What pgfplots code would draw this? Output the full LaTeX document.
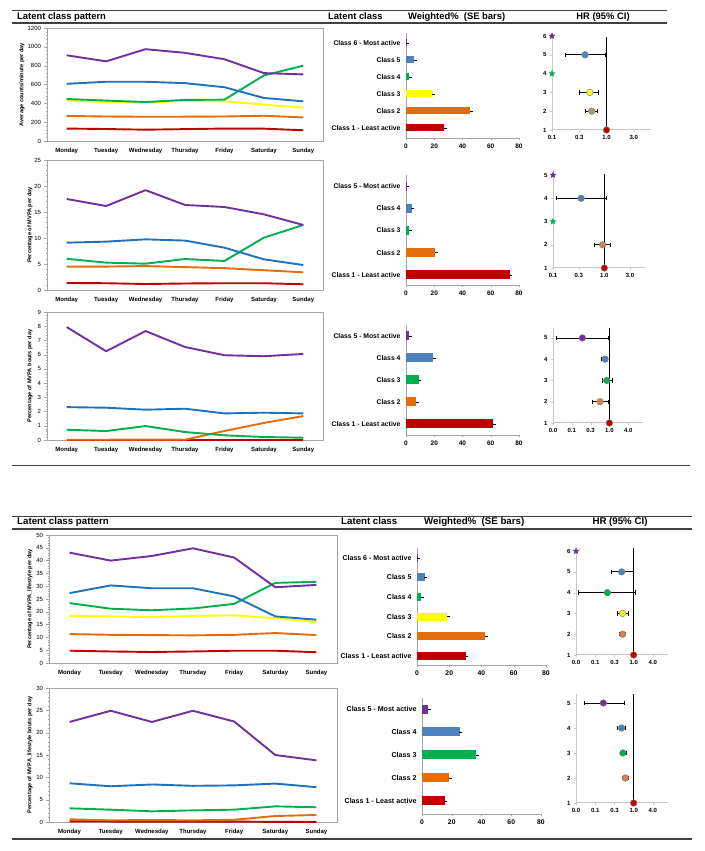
\documentclass[border=0pt]{standalone}
\usepackage{fontspec}
\setmainfont{Liberation Sans}
\usepackage{pgfplots}
\pgfplotsset{compat=1.18}
\definecolor{cPur}{HTML}{7030A0}
\definecolor{cBlu}{HTML}{1F72BE}
\definecolor{cGrn}{HTML}{00B050}
\definecolor{cYel}{HTML}{FFFF00}
\definecolor{cOra}{HTML}{E46C0A}
\definecolor{cRed}{HTML}{C00000}
\definecolor{cBar}{HTML}{4F81BD}
\definecolor{cTan}{HTML}{B09A6A}
\definecolor{cHOra}{HTML}{D9804F}
\definecolor{axgray}{HTML}{A6A6A6}
\definecolor{hrgray}{HTML}{C8C8C8}
\definecolor{rulec}{HTML}{404040}

\pgfdeclareplotmark{fstar}{%
 \pgfpathmoveto{\pgfpointpolar{90}{\pgfplotmarksize}}%
 \pgfpathlineto{\pgfpointpolar{126}{0.42\pgfplotmarksize}}%
 \pgfpathlineto{\pgfpointpolar{162}{\pgfplotmarksize}}%
 \pgfpathlineto{\pgfpointpolar{198}{0.42\pgfplotmarksize}}%
 \pgfpathlineto{\pgfpointpolar{234}{\pgfplotmarksize}}%
 \pgfpathlineto{\pgfpointpolar{270}{0.42\pgfplotmarksize}}%
 \pgfpathlineto{\pgfpointpolar{306}{\pgfplotmarksize}}%
 \pgfpathlineto{\pgfpointpolar{342}{0.42\pgfplotmarksize}}%
 \pgfpathlineto{\pgfpointpolar{18}{\pgfplotmarksize}}%
 \pgfpathlineto{\pgfpointpolar{54}{0.42\pgfplotmarksize}}%
 \pgfpathclose\pgfusepathqfill}

\pgfplotsset{
 linechart/.style={scale only axis, anchor=south west, xmin=-0.5, xmax=6.5, ymin=0,
  xtick={0,...,6}, xticklabels={Monday,Tuesday,Wednesday,Thursday,Friday,Saturday,Sunday},
  x tick label style={font=\fontsize{6}{7}\selectfont\bfseries, yshift=-1pt},
  y tick label style={font=\fontsize{6}{7}\selectfont},
  axis line style={draw=axgray, line width=0.6pt},
  ytick pos=left, tick align=outside, xtick style={draw=none},
  ytick style={draw=axgray}, major tick length=2.5pt, minor tick length=1.3pt,
  minor y tick num=4, clip=false,
  ylabel style={font=\fontsize{5.6}{6}\selectfont\bfseries, anchor=center},
  every axis plot/.append style={line width=1.9pt, no markers, line join=round}},
 barchart/.style={scale only axis, anchor=south west, xmin=0, xmax=80,
  xtick={0,20,...,80}, ytick={1,...,6},
  axis x line*=bottom, axis y line*=left,
  axis line style={draw=axgray, line width=0.6pt, -},
  tick style={draw=axgray}, tick align=outside, major tick length=2pt,
  ytick style={draw=none}, minor ytick={0.5,1.5,...,6.5}, minor tick length=2pt,
  x tick label style={font=\fontsize{6.5}{7}\selectfont\bfseries},
  y tick label style={font=\fontsize{6.8}{7}\selectfont\bfseries},
  xbar, bar shift=0pt, clip=false},
 barp/.style={fill=#1, draw=none, error bars/.cd, x dir=plus, x explicit,
  error bar style={black, line width=0.6pt}, error mark options={black, mark size=1.4pt, line width=0.6pt}},
 hrchart/.style={scale only axis, anchor=south west, ymin=1,
  ytick={1,...,6}, minor xtick={},
  axis x line*=bottom, axis y line*=left,
  axis line style={draw=hrgray, line width=1pt, -},
  tick style={draw=hrgray}, tick align=outside, major tick length=2pt,
  tick label style={font=\fontsize{6}{7}\selectfont\bfseries}, clip=false},
 ci/.style={black, line width=0.8pt, mark=|, mark size=2.2pt, mark options={solid, line width=0.8pt}},
 pt/.style={only marks, mark=*, mark size=3.3pt, mark options={fill=#1, draw=gray, line width=0.5pt}},
 st/.style={only marks, mark=fstar, mark size=3.8pt, mark options={fill=#1}},
 refl/.style={black, line width=1.1pt, no markers},
 /pgf/number format/assume math mode=true,
 /pgf/number format/set thousands separator={},
}

\begin{document}
\begin{tikzpicture}[x=1pt,y=1pt]
\fill[white] (0,0) rectangle (704,851);
\path[use as bounding box] (0,0) rectangle (704,851);

% ===== headers top panel =====
\draw[rulec, line width=0.7pt] (12,841) -- (667,841);
\draw[rulec, line width=1.1pt] (12,828) -- (667,828);
\draw[rulec, line width=0.9pt] (12,386) -- (690,386);
\node[anchor=base west, inner sep=0pt, font=\fontsize{9.4}{11}\selectfont\bfseries] at (17,831.5) {Latent class pattern};
\node[anchor=base west, inner sep=0pt, font=\fontsize{9.4}{11}\selectfont\bfseries] at (328,831.5) {Latent class};
\node[anchor=base west, inner sep=0pt, font=\fontsize{9.4}{11}\selectfont\bfseries] at (408,831.5) {Weighted\%\ \ (SE bars)};
\node[anchor=base, inner sep=0pt, font=\fontsize{9.4}{11}\selectfont\bfseries] at (603,831.5) {HR (95\% CI)};

% ===== headers bottom panel =====
\draw[rulec, line width=0.7pt] (12,335) -- (692,335);
\draw[rulec, line width=1.1pt] (12,322) -- (692,322);
\draw[rulec, line width=1.5pt] (12,12) -- (692,12);
\node[anchor=base west, inner sep=0pt, font=\fontsize{9.7}{11}\selectfont\bfseries] at (17,326) {Latent class pattern};
\node[anchor=base west, inner sep=0pt, font=\fontsize{9.7}{11}\selectfont\bfseries] at (341,326) {Latent class};
\node[anchor=base west, inner sep=0pt, font=\fontsize{9.7}{11}\selectfont\bfseries] at (424,326) {Weighted\%\ \ (SE bars)};
\node[anchor=base, inner sep=0pt, font=\fontsize{9.7}{11}\selectfont\bfseries] at (620,326) {HR (95\% CI)};

% ===== Row 1 line chart =====
\begin{axis}[linechart, at={(47pt,710pt)}, width=276pt, height=113pt, ymax=1200, ytick={0,200,...,1200},
  ylabel={Average counts/minute per day}, ylabel style={at={(axis description cs:-0.091,0.5)}}]
\addplot[cRed] coordinates {(0,132) (1,127) (2,120) (3,126) (4,132) (5,131) (6,114)};
\addplot[cOra] coordinates {(0,266) (1,260) (2,257) (3,258) (4,260) (5,268) (6,250)};
\addplot[cYel] coordinates {(0,429) (1,414) (2,407) (3,425) (4,421) (5,386) (6,354)};
\addplot[cGrn] coordinates {(0,446) (1,429) (2,414) (3,436) (4,439) (5,696) (6,800)};
\addplot[cBlu] coordinates {(0,607) (1,629) (2,629) (3,614) (4,571) (5,457) (6,421)};
\addplot[cPur] coordinates {(0,910) (1,846) (2,975) (3,936) (4,868) (5,721) (6,707)};
\end{axis}

% ===== Row 2 line chart =====
\begin{axis}[linechart, at={(47pt,561pt)}, width=276pt, height=130pt, ymax=25, ytick={0,5,...,25},
  ylabel={Percentage of MVPA per day}, ylabel style={at={(axis description cs:-0.062,0.5)}}]
\addplot[cRed] coordinates {(0,1.35) (1,1.3) (2,1.15) (3,1.25) (4,1.3) (5,1.3) (6,1.1)};
\addplot[cOra] coordinates {(0,4.5) (1,4.5) (2,4.6) (3,4.4) (4,4.2) (5,3.8) (6,3.4)};
\addplot[cGrn] coordinates {(0,6.0) (1,5.26) (2,5.06) (3,5.96) (4,5.58) (5,10.06) (6,12.5)};
\addplot[cBlu] coordinates {(0,9.1) (1,9.3) (2,9.74) (3,9.5) (4,8.14) (5,5.9) (6,4.8)};
\addplot[cPur] coordinates {(0,17.5) (1,16.15) (2,19.2) (3,16.35) (4,15.96) (5,14.55) (6,12.5)};
\end{axis}

% ===== Row 3 line chart =====
\begin{axis}[linechart, at={(47pt,411pt)}, width=276pt, height=128pt, ymax=9, ytick={0,1,...,9},
  ylabel={Percentage of MVPA bouts per day}, ylabel style={at={(axis description cs:-0.062,0.5)}}]
\addplot[cRed] coordinates {(0,0.01) (1,0.01) (2,0.01) (3,0.01) (4,0.01) (5,0.01) (6,0.01)};
\addplot[cOra] coordinates {(0,0.02) (1,0.02) (2,0.03) (3,0.02) (4,0.63) (5,1.2) (6,1.68)};
\addplot[cGrn] coordinates {(0,0.72) (1,0.63) (2,0.98) (3,0.56) (4,0.33) (5,0.21) (6,0.16)};
\addplot[cBlu] coordinates {(0,2.31) (1,2.27) (2,2.13) (3,2.2) (4,1.87) (5,1.92) (6,1.87)};
\addplot[cPur] coordinates {(0,7.94) (1,6.24) (2,7.66) (3,6.54) (4,5.96) (5,5.89) (6,6.05)};
\end{axis}

% ===== Row 4 line chart =====
\begin{axis}[linechart, at={(49pt,188pt)}, width=288pt, height=128pt, ymax=50, ytick={0,5,...,50},
  ylabel={Percentage of MVPA\_lifestyle per day}, ylabel style={at={(axis description cs:-0.066,0.5)}}]
\addplot[cRed] coordinates {(0,4.8) (1,4.5) (2,4.3) (3,4.5) (4,4.8) (5,4.8) (6,4.2)};
\addplot[cOra] coordinates {(0,11.3) (1,11) (2,10.9) (3,10.8) (4,11) (5,11.7) (6,10.9)};
\addplot[cYel] coordinates {(0,18.4) (1,18.2) (2,17.9) (3,18.4) (4,18.6) (5,17.5) (6,16)};
\addplot[cGrn] coordinates {(0,23.4) (1,21.2) (2,20.6) (3,21.3) (4,23.1) (5,31.3) (6,31.7)};
\addplot[cBlu] coordinates {(0,27.3) (1,30.3) (2,29.2) (3,29.2) (4,26) (5,18.2) (6,16.9)};
\addplot[cPur] coordinates {(0,43.1) (1,40) (2,41.8) (3,44.8) (4,41.2) (5,29.6) (6,30.5)};
\end{axis}

% ===== Row 5 line chart =====
\begin{axis}[linechart, at={(49pt,29pt)}, width=288pt, height=134pt, ymax=30, ytick={0,5,...,30},
  ylabel={Percentage of MVPA\_lifestyle bouts per day}, ylabel style={at={(axis description cs:-0.066,0.5)}}]
\addplot[cRed] coordinates {(0,0.15) (1,0.1) (2,0.1) (3,0.1) (4,0.1) (5,0.02) (6,0.02)};
\addplot[cOra] coordinates {(0,0.6) (1,0.37) (2,0.45) (3,0.37) (4,0.5) (5,1.34) (6,1.57)};
\addplot[cGrn] coordinates {(0,3.06) (1,2.76) (2,2.39) (3,2.6) (4,2.76) (5,3.5) (6,3.3)};
\addplot[cBlu] coordinates {(0,8.66) (1,8.0) (2,8.4) (3,8.1) (4,8.2) (5,8.6) (6,7.8)};
\addplot[cPur] coordinates {(0,22.4) (1,24.9) (2,22.4) (3,24.9) (4,22.5) (5,15) (6,13.8)};
\end{axis}

% ===== Bar charts =====
\begin{axis}[barchart, at={(406pt,712.8pt)}, width=113pt, height=105.4pt, ymin=0.4, ymax=6.6, bar width=7pt,
  yticklabels={Class 1 - Least active, Class 2, Class 3, Class 4, Class 5, Class 6 - Most active}]
\addplot[barp=cRed] coordinates {(27.2,1) +- (0.9,0)};
\addplot[barp=cOra] coordinates {(45.4,2) +- (0.8,0)};
\addplot[barp=cYel] coordinates {(18.9,3) +- (0.8,0)};
\addplot[barp=cGrn] coordinates {(2.4,4) +- (0.5,0)};
\addplot[barp=cBar] coordinates {(5.9,5) +- (0.6,0)};
\addplot[barp=cPur] coordinates {(0.6,6) +- (0.3,0)};
\end{axis}

\begin{axis}[barchart, at={(406pt,566pt)}, width=113pt, height=110pt, ymin=0.55, ymax=5.5, bar width=9pt,
  ytick={1,...,5}, minor ytick={0.5,1.5,...,5.5},
  yticklabels={Class 1 - Least active, Class 2, Class 3, Class 4, Class 5 - Most active}]
\addplot[barp=cRed] coordinates {(73.3,1) +- (1.0,0)};
\addplot[barp=cOra] coordinates {(20.6,2) +- (0.8,0)};
\addplot[barp=cGrn] coordinates {(2.4,3) +- (0.8,0)};
\addplot[barp=cBar] coordinates {(4.0,4) +- (0.8,0)};
\addplot[barp=cPur] coordinates {(1.0,5) +- (0.4,0)};
\end{axis}

\begin{axis}[barchart, at={(406pt,416pt)}, width=113pt, height=110pt, ymin=0.5, ymax=5.5, bar width=9pt,
  ytick={1,...,5}, minor ytick={0.5,1.5,...,5.5},
  yticklabels={Class 1 - Least active, Class 2, Class 3, Class 4, Class 5 - Most active}]
\addplot[barp=cRed] coordinates {(61.5,1) +- (1.0,0)};
\addplot[barp=cOra] coordinates {(7.0,2) +- (0.9,0)};
\addplot[barp=cGrn] coordinates {(9.0,3) +- (0.9,0)};
\addplot[barp=cBar] coordinates {(19.0,4) +- (1.0,0)};
\addplot[barp=cPur] coordinates {(2.0,5) +- (1.0,0)};
\end{axis}

\begin{axis}[barchart, at={(417pt,186pt)}, width=129pt, height=117pt, ymin=0.54, ymax=6.5, bar width=8pt,
  x tick label style={font=\fontsize{6.8}{7}\selectfont\bfseries},
  y tick label style={font=\fontsize{7}{7}\selectfont\bfseries},
  yticklabels={Class 1 - Least active, Class 2, Class 3, Class 4, Class 5, Class 6 - Most active}]
\addplot[barp=cRed] coordinates {(30.2,1) +- (0.8,0)};
\addplot[barp=cOra] coordinates {(42.4,2) +- (0.8,0)};
\addplot[barp=cYel] coordinates {(18.8,3) +- (0.7,0)};
\addplot[barp=cGrn] coordinates {(2.7,4) +- (0.7,0)};
\addplot[barp=cBar] coordinates {(4.8,5) +- (0.7,0)};
\addplot[barp=cPur] coordinates {(0.7,6) +- (0.3,0)};
\end{axis}

\begin{axis}[barchart, at={(422pt,37pt)}, width=119pt, height=116pt, ymin=0.43, ymax=5.48, bar width=9pt,
  ytick={1,...,5}, minor ytick={0.5,1.5,...,5.5},
  x tick label style={font=\fontsize{6.8}{7}\selectfont\bfseries},
  y tick label style={font=\fontsize{7.1}{7}\selectfont\bfseries},
  yticklabels={Class 1 - Least active, Class 2, Class 3, Class 4, Class 5 - Most active}]
\addplot[barp=cRed] coordinates {(15.2,1) +- (0.8,0)};
\addplot[barp=cOra] coordinates {(18.1,2) +- (0.8,0)};
\addplot[barp=cGrn] coordinates {(36.5,3) +- (0.8,0)};
\addplot[barp=cBar] coordinates {(25.3,4) +- (0.8,0)};
\addplot[barp=cPur] coordinates {(4.0,5) +- (0.8,0)};
\end{axis}

% ===== HR charts =====
\begin{semilogxaxis}[hrchart, at={(552pt,721pt)}, width=99pt, height=96.8pt, ymax=6.15, xmin=0.111111, xmax=6,
  xtick={0.111111,0.333333,1,3}, xticklabels={0.1,0.3,1.0,3.0}]
\addplot[refl] coordinates {(1,1) (1,5.95)};
\addplot[ci] coordinates {(0.19,5) (0.94,5)};
\addplot[ci] coordinates {(0.34,3) (0.73,3)};
\addplot[ci] coordinates {(0.42,2) (0.70,2)};
\addplot[st=cPur] coordinates {(0.111111,6)};
\addplot[pt=cBar] coordinates {(0.42,5)};
\addplot[st=cGrn] coordinates {(0.111111,4)};
\addplot[pt=cYel] coordinates {(0.51,3)};
\addplot[pt=cTan] coordinates {(0.55,2)};
\addplot[pt=cRed] coordinates {(1,1)};
\end{semilogxaxis}

\begin{semilogxaxis}[hrchart, at={(553pt,583pt)}, width=92pt, height=97.6pt, ymax=5.2, ytick={1,...,5}, xmin=0.111111, xmax=5.7,
  xtick={0.111111,0.333333,1,3}, xticklabels={0.1,0.3,1.0,3.0}]
\addplot[refl] coordinates {(1,1) (1,5.05)};
\addplot[ci] coordinates {(0.126,4) (1.1,4)};
\addplot[ci] coordinates {(0.65,2) (1.32,2)};
\addplot[st=cPur] coordinates {(0.111111,5)};
\addplot[pt=cBar] coordinates {(0.37,4)};
\addplot[st=cGrn] coordinates {(0.111111,3)};
\addplot[pt=cHOra] coordinates {(0.93,2)};
\addplot[pt=cRed] coordinates {(1,1)};
\end{semilogxaxis}

\begin{semilogxaxis}[hrchart, at={(553pt,428pt)}, width=90pt, height=94.6pt, ymax=5.45, ytick={1,...,5}, xmin=0.015625, xmax=11.9,
  xtick={0.015625,0.0625,0.25,1,4}, xticklabels={0.0,0.1,0.3,1.0,4.0}]
\addplot[refl] coordinates {(1,1) (1,5.45)};
\addplot[ci] coordinates {(0.0195,5) (0.95,5)};
\addplot[ci] coordinates {(0.57,4) (0.86,4)};
\addplot[ci] coordinates {(0.6,3) (1.24,3)};
\addplot[ci] coordinates {(0.29,2) (0.95,2)};
\addplot[pt=cPur] coordinates {(0.136,5)};
\addplot[pt=cBar] coordinates {(0.73,4)};
\addplot[pt=cGrn] coordinates {(0.82,3)};
\addplot[pt=cHOra] coordinates {(0.5,2)};
\addplot[pt=cRed] coordinates {(1,1)};
\end{semilogxaxis}

\begin{semilogxaxis}[hrchart, at={(576pt,196pt)}, width=92pt, height=107pt, ymax=6.15, xmin=0.015625, xmax=11.9,
  xtick={0.015625,0.0625,0.25,1,4}, xticklabels={0.0,0.1,0.3,1.0,4.0}]
\addplot[refl] coordinates {(1,1) (1,6.15)};
\addplot[ci] coordinates {(0.195,5) (1.0,5)};
\addplot[ci] coordinates {(0.0184,4) (1.16,4)};
\addplot[ci] coordinates {(0.3,3) (0.68,3)};
\addplot[ci] coordinates {(0.37,2) (0.55,2)};
\addplot[st=cPur] coordinates {(0.015625,6)};
\addplot[pt=cBar] coordinates {(0.42,5)};
\addplot[pt=cGrn] coordinates {(0.15,4)};
\addplot[pt=cYel] coordinates {(0.45,3)};
\addplot[pt=cHOra] coordinates {(0.45,2)};
\addplot[pt=cRed] coordinates {(1,1)};
\end{semilogxaxis}

\begin{semilogxaxis}[hrchart, at={(576pt,48pt)}, width=92pt, height=109pt, ymax=5.36, ytick={1,...,5}, xmin=0.015625, xmax=11.9,
  xtick={0.015625,0.0625,0.25,1,4}, xticklabels={0.0,0.1,0.3,1.0,4.0}]
\addplot[refl] coordinates {(1,1) (1,5.36)};
\addplot[ci] coordinates {(0.028,5) (0.5,5)};
\addplot[ci] coordinates {(0.3,4) (0.55,4)};
\addplot[ci] coordinates {(0.39,3) (0.6,3)};
\addplot[ci] coordinates {(0.45,2) (0.68,2)};
\addplot[pt=cPur] coordinates {(0.112,5)};
\addplot[pt=cBar] coordinates {(0.42,4)};
\addplot[pt=cGrn] coordinates {(0.46,3)};
\addplot[pt=cHOra] coordinates {(0.55,2)};
\addplot[pt=cRed] coordinates {(1,1)};
\end{semilogxaxis}
\end{tikzpicture}
\end{document}
